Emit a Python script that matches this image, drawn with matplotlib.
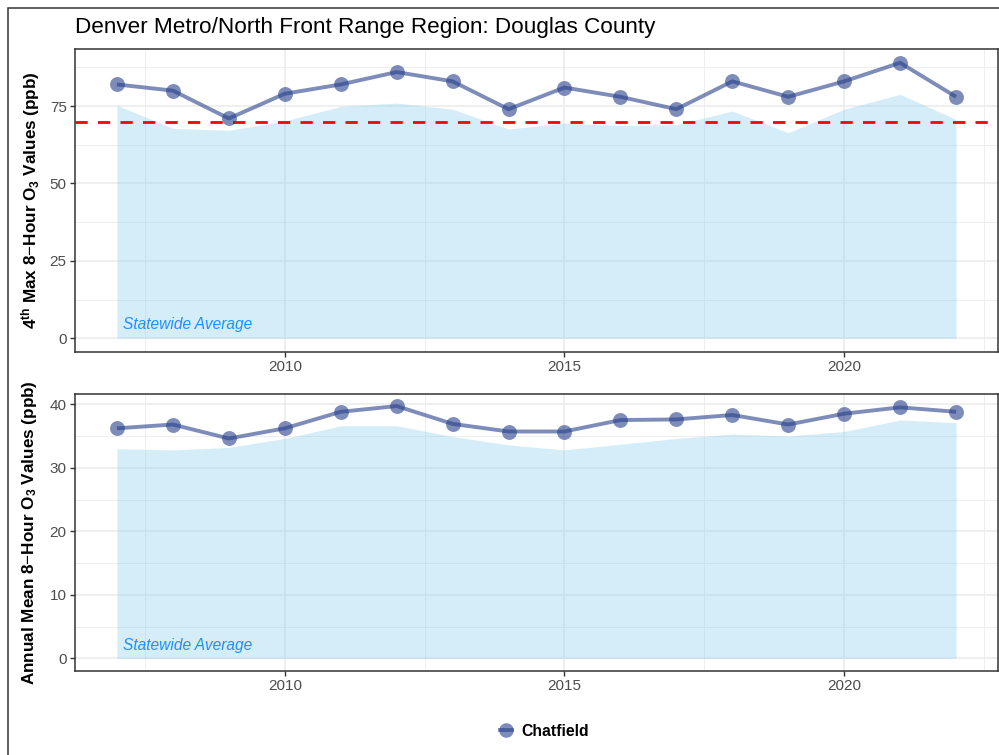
import matplotlib
matplotlib.use("Agg")
import matplotlib.pyplot as plt
from matplotlib.lines import Line2D
from matplotlib.patches import Rectangle
import numpy as np

plt.rcParams["font.family"] = ["Liberation Sans", "DejaVu Sans"]
plt.rcParams["mathtext.fontset"] = "custom"
plt.rcParams["mathtext.rm"] = "Liberation Sans"
plt.rcParams["mathtext.it"] = "Liberation Sans:italic"
plt.rcParams["mathtext.bf"] = "Liberation Sans:bold"

# Data
years = list(range(2007, 2023))
site_name = "Chatfield"
county_title = "Denver Metro/North Front Range Region: Douglas County"

# 4th max 8-hour ozone (ppb)
site_4th_max = [82, 80, 71, 79, 82, 86, 83, 74, 81, 78, 74, 83, 78, 83, 89, 78]
state_4th_max = [75.3, 67.8, 67.2, 70.2, 74.9, 76.0, 74.0, 67.6, 69.5, 68.7,
                 69.0, 73.4, 66.4, 74.0, 78.8, 70.7]
naaqs_standard = 70

# Annual mean 8-hour ozone (ppb)
site_annual_mean = [36.2, 36.8, 34.6, 36.2, 38.8, 39.7, 36.9, 35.7, 35.7, 37.5,
                    37.6, 38.3, 36.8, 38.5, 39.5, 38.8]
state_annual_mean = [33.0, 32.8, 33.2, 34.6, 36.6, 36.6, 34.9, 33.6, 32.8, 33.7,
                     34.6, 35.3, 35.0, 35.7, 37.5, 37.1]

x_major = [2010, 2015, 2020]
x_minor = [2007.5, 2012.5, 2017.5, 2022.5]

line_col = "#27408B"
fill_col = "skyblue"
grid_col = "#EBEBEB"
frame_col = "#333333"
tick_lab_col = "#4D4D4D"

W, H = 999, 755
fig = plt.figure(figsize=(W / 100, H / 100), dpi=100)

# outer frame around the plot area
fig.patches.append(Rectangle((8 / W, -0.05), 1.2, 1 - 8 / H + 0.05,
                             transform=fig.transFigure, fill=False,
                             edgecolor=frame_col, linewidth=1.1, zorder=0))


def px_axes(left, top, right, bottom):
    return fig.add_axes([left / W, 1 - bottom / H, (right - left) / W, (bottom - top) / H])


ax1 = px_axes(75, 49, 998, 352)
ax2 = px_axes(75, 394, 998, 671)


def style(ax, ymaj, ymin, ylim):
    ax.set_xlim(2006.25, 2022.75)
    ax.set_ylim(*ylim)
    ax.set_xticks(x_major)
    ax.set_xticks(x_minor, minor=True)
    ax.set_yticks(ymaj)
    ax.set_yticks(ymin, minor=True)
    ax.grid(True, which="major", color=grid_col, linewidth=1.1, zorder=0)
    ax.grid(True, which="minor", color=grid_col, linewidth=0.6, zorder=0)
    ax.set_axisbelow(True)
    ax.tick_params(which="major", length=3.5, width=1.0, color=frame_col,
                   labelsize=11, labelcolor=tick_lab_col, pad=2.5)
    ax.tick_params(which="minor", length=0)
    for s in ax.spines.values():
        s.set_color(frame_col)
        s.set_linewidth(1.1)


def draw(ax, site, state, label_y):
    ax.fill_between(years, 0, state, color=fill_col, alpha=0.35, linewidth=0, zorder=1)
    ax.plot(years, site, color=line_col, alpha=0.6, linewidth=2.8, zorder=3,
            solid_capstyle="butt")
    ax.scatter(years, site, s=115, color=line_col, alpha=0.6, linewidths=0, zorder=4)
    ax.text(years[0] + 0.1, label_y, "Statewide Average", color="#1E90FF",
            style="italic", fontsize=11.2, ha="left", va="center", zorder=5)


style(ax1, [0, 25, 50, 75], [12.5, 37.5, 62.5, 87.5], (-4.45, 93.45))
draw(ax1, site_4th_max, state_4th_max, 4.3)
ax1.axhline(naaqs_standard, color="red", linestyle=(0, (4.4, 3.7)), linewidth=2.0, zorder=2)

style(ax2, [0, 10, 20, 30, 40], [5, 15, 25, 35], (-1.98, 41.6))
draw(ax2, site_annual_mean, state_annual_mean, 2.0)

fig.text(75 / W, 1 - 28 / H, county_title, fontsize=16.2, ha="left", va="center")

fig.text(31 / W, 1 - 200.5 / H,
         r"$\mathbf{4^{th}}$ Max 8$-$Hour O$_\mathbf{3}$ Values (ppb)",
         rotation=90, ha="center", va="center", fontsize=12.3, fontweight="bold")
fig.text(30 / W, 1 - 532.5 / H,
         r"Annual Mean 8$-$Hour O$_\mathbf{3}$ Values (ppb)",
         rotation=90, ha="center", va="center", fontsize=12.3, fontweight="bold")

handle = Line2D([], [], color=line_col, alpha=0.6, linewidth=2.8, marker="o",
                markersize=10.5, markeredgewidth=0)
fig.legend([handle], [site_name], loc="center left", bbox_to_anchor=(492 / W, 1 - 731 / H),
           frameon=False, handlelength=0.8, handletextpad=0.55, borderpad=0,
           prop={"weight": "bold", "size": 11.3})

fig.savefig("out.png", dpi=100)
